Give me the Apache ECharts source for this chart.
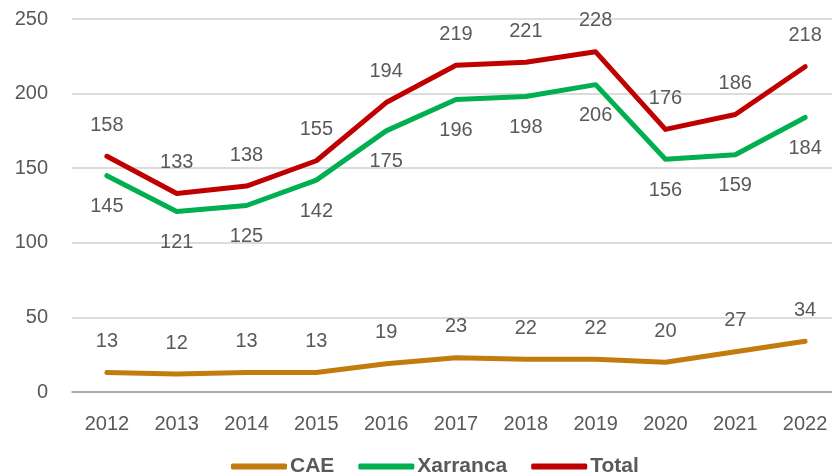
<!DOCTYPE html>
<html>
<head>
<meta charset="utf-8">
<script src="https://cdn.jsdelivr.net/npm/echarts@6/dist/echarts.min.js"></script>
<style>html,body{margin:0;padding:0;background:#fff}#c{width:832px;height:476px}</style>
</head>
<body>
<div id="c"></div>
<script>
const categories = ['2012','2013','2014','2015','2016','2017','2018','2019','2020','2021','2022'];
const cae = [13,12,13,13,19,23,22,22,20,27,34];
const xarranca = [145,121,125,142,175,196,198,206,156,159,184];
const total = [158,133,138,155,194,219,221,228,176,186,218];
const yTicks = [0,50,100,150,200,250];

const FONT = '"Liberation Sans", Arial, sans-serif';
const TXT = '#595959';
function mk(name, data, color, dy) {
  return {
    name, type: 'line', data,
    symbol: 'circle', symbolSize: 0.1, showSymbol: true,
    itemStyle: { color },
    lineStyle: { color, width: 5, cap: 'round', join: 'round' },
    emphasis: { disabled: true },
    label: { show: true, position: 'inside', offset: [0, dy], color: TXT, fontSize: 20, fontFamily: FONT },
    z: 2
  };
}
const chart = echarts.init(document.getElementById('c'));
chart.setOption({
  animation: false,
  backgroundColor: '#fff',
  grid: { left: 72, top: 19, width: 768, bottom: 84, outerBoundsMode: 'none', containLabel: false },
  legend: {
    left: 226, top: 451,
    itemWidth: 56, itemHeight: 6, itemGap: 24,
    icon: 'roundRect',
    textStyle: { color: TXT, fontSize: 21, fontWeight: 'bold', fontFamily: FONT, padding: [0,0,0,-2] },
    data: [
      { name: 'CAE', itemStyle: { color: '#C27C0E' } },
      { name: 'Xarranca', itemStyle: { color: '#00B050' } },
      { name: 'Total', itemStyle: { color: '#C00000' } }
    ]
  },
  xAxis: {
    type: 'category', data: categories, boundaryGap: true,
    axisLine: { lineStyle: { color: '#9A9A9A', width: 1.5 } },
    axisTick: { show: false },
    axisLabel: { color: TXT, fontSize: 20, fontFamily: FONT, margin: 22 }
  },
  yAxis: {
    type: 'value', min: yTicks[0], max: yTicks[yTicks.length-1], interval: 50,
    axisLine: { show: false }, axisTick: { show: false },
    splitLine: { lineStyle: { color: '#D0D0D0', width: 1.5 } },
    axisLabel: { color: TXT, fontSize: 20, fontFamily: FONT, margin: 24 }
  },
  series: [
    mk('CAE', cae, '#C27C0E', -31),
    mk('Xarranca', xarranca, '#00B050', 31),
    mk('Total', total, '#C00000', -31)
  ]
});
</script>
</body>
</html>
